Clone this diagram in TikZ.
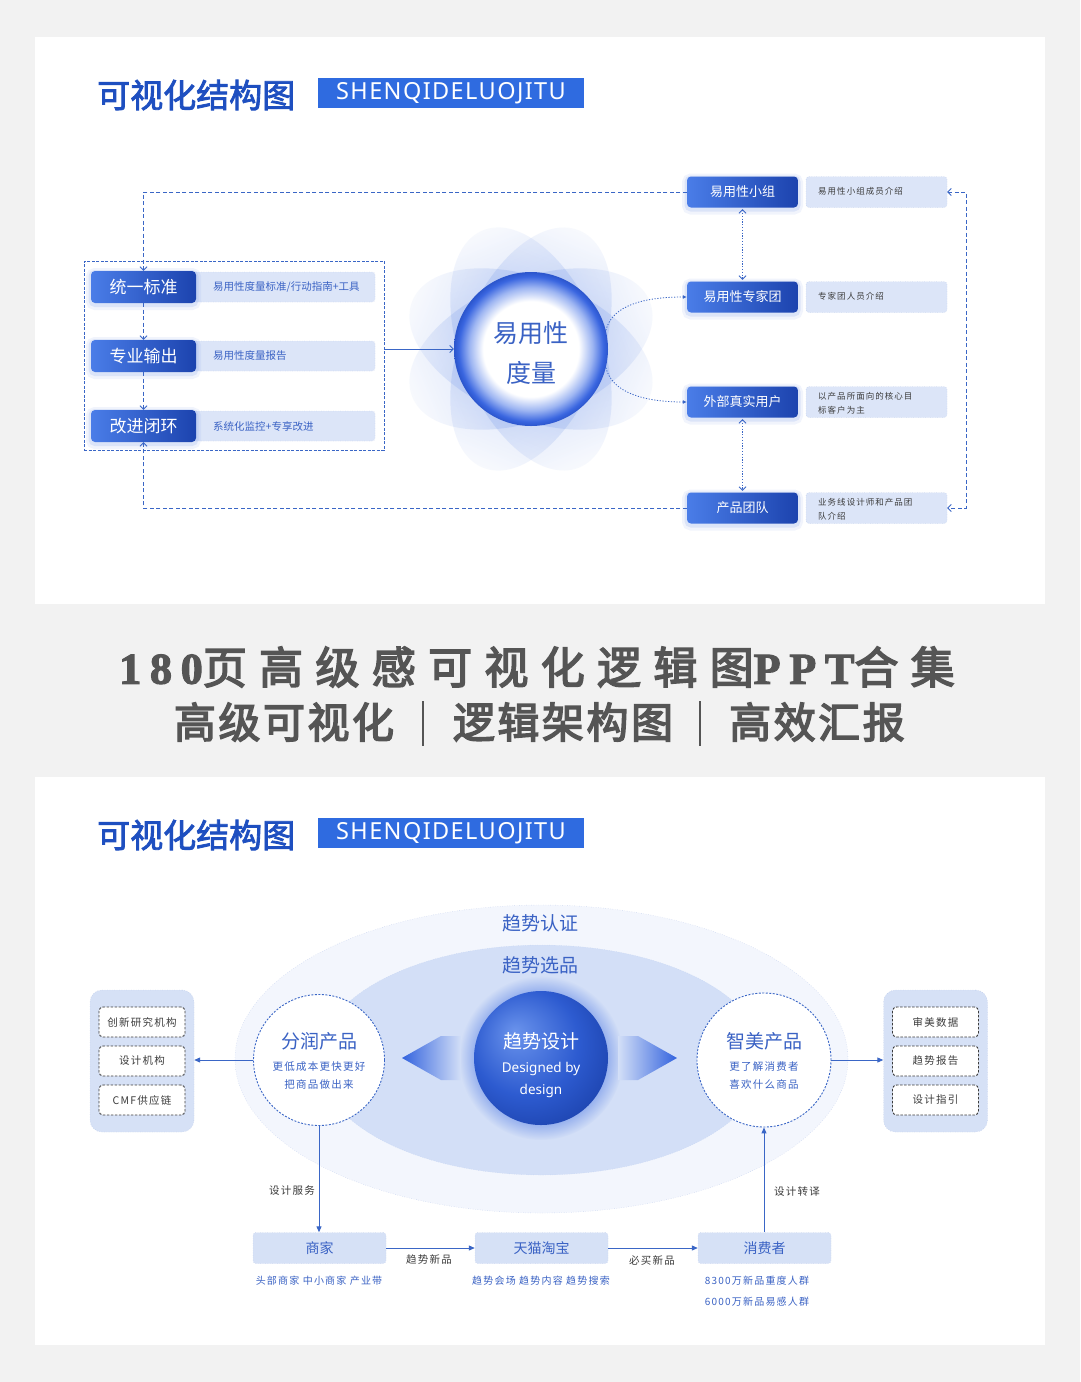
\documentclass[tikz,border=0pt]{standalone}
\usepackage{fontspec}
\setmainfont{Noto Sans CJK SC}[AutoFakeBold=2.5]
\newfontfamily\latin{Noto Sans}
\newfontfamily\latinsp{Noto Sans}[LetterSpace=6]
\newfontfamily\cjkls{Noto Sans CJK SC}[LetterSpace=12]
\newfontfamily\cjkbigA{Noto Sans CJK SC}[LetterSpace=28,AutoFakeBold=3.5]
\newfontfamily\cjkbigB{Noto Sans CJK SC}[LetterSpace=6,AutoFakeBold=3.5]
\newfontfamily\serifbig{Liberation Serif}[LetterSpace=20,BoldFeatures={FakeBold=2.5}]
\usetikzlibrary{arrows.meta,fadings,shapes.geometric,calc}
\newcommand\fsz[2]{\fontsize{#1}{#2}\selectfont}
\definecolor{bgc}{HTML}{F2F2F2}
\definecolor{tblue}{HTML}{1E4FC0}
\definecolor{boxblue}{HTML}{2F6BE0}
\definecolor{btnL}{HTML}{4A7DE8}
\definecolor{btnR}{HTML}{1C43AE}
\definecolor{glowc}{HTML}{7C9CEA}
\definecolor{infof}{HTML}{DCE5F8}
\definecolor{infod}{HTML}{A8BBE4}
\definecolor{lineb}{HTML}{3A66C6}
\definecolor{txtb}{HTML}{3A62C4}
\definecolor{darkt}{HTML}{3C3C3C}
\definecolor{greyt}{HTML}{555555}
\definecolor{petal}{HTML}{7A9CEB}
\definecolor{ellout}{HTML}{F3F6FD}
\definecolor{elloutb}{HTML}{B5C6EA}
\definecolor{ellin}{HTML}{D3DFF7}
\definecolor{ellinb}{HTML}{BFD0F2}
\definecolor{lbox}{HTML}{D6E1F6}
\definecolor{ringm}{HTML}{9DB5F2}
\definecolor{ringo}{HTML}{3A66E0}
\definecolor{ringd}{HTML}{2B55CC}
\definecolor{ballL}{HTML}{6A93EC}
\definecolor{ballM}{HTML}{2D5BD0}
\definecolor{ballD}{HTML}{1A3FA8}
\definecolor{arrB}{HTML}{3363DE}
\pgfdeclareradialshading{ringsh}{\pgfpoint{0bp}{0bp}}{color(0bp)=(white); color(15.5bp)=(white); color(20bp)=(ringm); color(23.5bp)=(ringo); color(25bp)=(ringd); color(50bp)=(ringd)}
\pgfdeclareradialshading{ballsh}{\pgfpoint{-10bp}{10bp}}{color(0bp)=(ballL); color(20bp)=(ballM); color(35bp)=(ballD); color(50bp)=(ballD)}
\tikzfading[name=fadeends, left color=transparent!85, right color=transparent!85, middle color=transparent!0]
\begin{document}
\begin{tikzpicture}[x=1pt,y=-1pt,
  >={Straight Barb[length=3.5pt,width=7pt]},
  glow/.style={preaction={draw=glowc, line width=10pt, opacity=.10, transform canvas={yshift=-2pt}},
               preaction={draw=glowc, line width=5pt, opacity=.18, transform canvas={yshift=-1.5pt}}},
  btnA/.style={rounded corners=4pt, left color=btnL, right color=btnR, text=white, minimum width=105pt, minimum height=32pt, inner sep=0pt, font=\fsz{17}{20}, glow},
  btnB/.style={btnA, minimum width=111pt, minimum height=31pt, font=\fsz{13}{16}},
  infoL/.style={fill=infof, draw=infod, dotted, rounded corners=3pt, minimum height=30pt, minimum width=184pt, inner sep=0pt},
  infoR/.style={infoL, minimum width=141pt, minimum height=31pt},
  ltxt/.style={anchor=west, text=txtb, font=\fsz{10.5}{13}, inner sep=0pt},
  rtxt/.style={anchor=west, text=darkt, font=\cjkls\fsz{8.5}{14}, align=left, inner sep=0pt},
  dsh/.style={draw=lineb, line width=0.9pt, dash pattern=on 4pt off 2.5pt},
  dotl/.style={draw=lineb, line width=0.8pt, dash pattern=on 1.2pt off 1.6pt},
  sarr/.style={draw=lineb, line width=1pt, -{Triangle[length=6pt,width=5pt]}},
  ttxt/.style={anchor=west, text=tblue, font=\bfseries\fsz{33}{36}, inner sep=0pt},
  tbox/.style={fill=boxblue, minimum width=266pt, minimum height=30pt, text=white, font=\latinsp\fsz{23.5}{28}, inner sep=0pt},
  wcirc/.style={circle, fill=white, draw=lineb, line width=0.9pt, dash pattern=on 2pt off 1.5pt, inner sep=0pt},
  sidebox/.style={fill=lbox, draw=infod, dotted, rounded corners=12pt, minimum width=104pt, minimum height=142pt, inner sep=0pt},
  dbox/.style={fill=white, draw=darkt, line width=0.9pt, dash pattern=on 2.5pt off 1.5pt, rounded corners=4pt, minimum width=86pt, minimum height=30pt, inner sep=0pt, font=\cjkls\fsz{10.5}{13}, text=darkt},
  bbox/.style={fill=lbox, draw=infod, dotted, rounded corners=3pt, minimum width=133pt, minimum height=31pt, inner sep=0pt, font=\fsz{14}{16}, text=txtb},
  lab/.style={text=darkt, font=\cjkls\fsz{10.5}{13}, inner sep=0pt},
  sub/.style={text=txtb, font=\cjkls\fsz{10}{13}, inner sep=0pt}
]
\useasboundingbox (0,0) rectangle (1080,1382);
\fill[bgc] (0,0) rectangle (1080,1382);
\fill[white] (35,37) rectangle (1045,604);
\fill[white] (35,777) rectangle (1045,1345);

% ---------- top panel ----------
\node[ttxt] (t1) at (97,95) {可视化结构图};
\node[tbox] (tb1) at (451,93) {SHENQIDELUOJITU};

% flower
\foreach \a in {22,-22,68,-68}
  \fill[petal, opacity=.36, path fading=fadeends, transform canvas={rotate around={\a:(531,349)}}]
    (531,349) ellipse [x radius=128pt, y radius=70pt];
\node[circle, minimum size=154pt, shading=ringsh, inner sep=0pt] (c) at (531,349) {};
\node[text=txtb, font=\fsz{25}{40}, align=center, inner sep=0pt] (ct) at (531,353) {易用性\\度量};

% left group
\node[draw=lineb, line width=0.9pt, dash pattern=on 3pt off 1.5pt, minimum width=300pt, minimum height=189pt, inner sep=0pt] (grp) at (234,355.5) {};
\node[infoL] (l1) at (283,287) {};
\node[infoL] (l2) at (283,356) {};
\node[infoL] (l3) at (283,426) {};
\node[ltxt] (lt1) at (213,287) {易用性度量标准/行动指南+工具};
\node[ltxt] (lt2) at (213,356) {易用性度量报告};
\node[ltxt] (lt3) at (213,426) {系统化监控+专享改进};
\node[btnA] (b1) at (143.5,287) {统一标准};
\node[btnA] (b2) at (143.5,356) {专业输出};
\node[btnA] (b3) at (143.5,426) {改进闭环};

% right column
\node[infoR] (ri1) at (876.5,192) {};
\node[infoR] (ri2) at (876.5,297) {};
\node[infoR] (ri3) at (876.5,402) {};
\node[infoR] (ri4) at (876.5,508) {};
\node[rtxt] (rt1) at (818,191) {易用性小组成员介绍};
\node[rtxt] (rt2) at (818,296) {专家团人员介绍};
\node[rtxt] (rt3) at (818,403) {以产品所面向的核心目\\标客户为主};
\node[rtxt] (rt4) at (818,509) {业务线设计师和产品团\\队介绍};
\node[btnB] (r1) at (742.5,192) {易用性小组};
\node[btnB] (r2) at (742.5,297) {易用性专家团};
\node[btnB] (r3) at (742.5,402) {外部真实用户};
\node[btnB] (r4) at (742.5,508) {产品团队};

% connectors top
\coordinate (tl) at (b1.north |- r1.west);
\coordinate (bl) at (b3.south |- r4.west);
\coordinate (tr) at (966,192);
\coordinate (br) at (966,508);
\draw[dsh,->] (r1.west) -- (tl) -- (b1.north);
\draw[dsh,->] (b1.south) -- (b2.north);
\draw[dsh,->] (b2.south) -- (b3.north);
\draw[dsh,->] (r4.west) -- (bl) -- (b3.south);
\draw[dsh,<->] (ri1.east) -- (tr) -- (br) -- (ri4.east);
\draw[dotl,<->, shorten <=1.5pt, shorten >=1.5pt] (r1.south) -- (r2.north);
\draw[dotl,<->, shorten <=1.5pt, shorten >=1.5pt] (r3.south) -- (r4.north);
\draw[draw=lineb, line width=0.9pt, ->] (grp.east |- c) -- (c.west);
\draw[dotl,-{Latex[length=4pt,width=4pt]}] (c.14) .. controls (612,305) and (645,297) .. (r2.west);
\draw[dotl,-{Latex[length=4pt,width=4pt]}] (c.-14) .. controls (612,393) and (645,402) .. (r3.west);

% ---------- middle text ----------
\node[text=greyt, inner sep=0pt] (h1) at (537,667) {\fsz{44}{48}{\serifbig\bfseries 180}{\cjkbigA\bfseries 页高级感可视化逻辑图}{\serifbig\bfseries PPT}{\cjkbigA\bfseries 合集}};
\node[text=greyt, inner sep=0pt, font=\cjkbigB\bfseries\fsz{42}{46}] (h21) at (284,722) {高级可视化};
\node[text=greyt, inner sep=0pt, font=\cjkbigB\bfseries\fsz{42}{46}] (h22) at (563,722) {逻辑架构图};
\node[text=greyt, inner sep=0pt, font=\cjkbigB\bfseries\fsz{42}{46}] (h23) at (817,722) {高效汇报};
\draw[greyt, line width=2pt] (423,701) -- (423,746);
\draw[greyt, line width=2pt] (700,701) -- (700,746);

% ---------- bottom panel ----------
\node[ttxt] (t2) at (97,835) {可视化结构图};
\node[tbox] (tb2) at (451,833) {SHENQIDELUOJITU};

\node[ellipse, fill=ellout, draw=elloutb, dotted, minimum width=613pt, minimum height=308pt, inner sep=0pt] (eo) at (541.5,1059) {};
\node[ellipse, fill=ellin, draw=ellinb, dotted, minimum width=446pt, minimum height=230pt, inner sep=0pt] (ei) at (541.5,1060) {};
\node[text=txtb, font=\fsz{19}{22}, inner sep=0pt] (e1) at (540,923) {趋势认证};
\node[text=txtb, font=\fsz{19}{22}, inner sep=0pt] (e2) at (540,965) {趋势选品};

\fill[glowc, opacity=.7, path fading=circle with fuzzy edge 20 percent] (541,1058) circle (82pt);
\node[circle, minimum size=134pt, shading=ballsh, inner sep=0pt] (cb) at (541,1058) {};
\node[text=white, font=\fsz{19}{22}, inner sep=0pt] (cb1) at (541,1041) {趋势设计};
\node[text=white, font=\latin\fsz{13.5}{16}, inner sep=0pt] (cb2) at (541,1069) {Designed by};
\node[text=white, font=\latin\fsz{13.5}{16}, inner sep=0pt] (cb3) at (541,1091) {design};

\shade[left color=arrB, right color=ellin] (402,1058) -- (441,1036) -- (461,1036) -- (461,1080) -- (441,1080) -- cycle;
\shade[left color=ellin, right color=arrB] (677,1058) -- (638,1036) -- (618,1036) -- (618,1080) -- (638,1080) -- cycle;

\node[wcirc, minimum size=131pt] (cl) at (319,1060) {};
\node[wcirc, minimum size=134pt] (cr) at (764,1060) {};
\node[text=txtb, font=\fsz{19}{22}, inner sep=0pt] (cl1) at (319,1041) {分润产品};
\node[text=txtb, font=\cjkls\fsz{10.5}{13}, inner sep=0pt] (cl2) at (319,1067) {更低成本更快更好};
\node[text=txtb, font=\cjkls\fsz{10.5}{13}, inner sep=0pt] (cl3) at (319,1084) {把商品做出来};
\node[text=txtb, font=\fsz{19}{22}, inner sep=0pt] (cr1) at (764,1041) {智美产品};
\node[text=txtb, font=\cjkls\fsz{10.5}{13}, inner sep=0pt] (cr2) at (764,1067) {更了解消费者};
\node[text=txtb, font=\cjkls\fsz{10.5}{13}, inner sep=0pt] (cr3) at (764,1084) {喜欢什么商品};

\node[sidebox] (sl) at (142,1061) {};
\node[sidebox] (sr) at (935.5,1061) {};
\node[dbox] (s1) at (142,1022) {创新研究机构};
\node[dbox] (s2) at (142,1061) {设计机构};
\node[dbox] (s3) at (142,1100) {CMF供应链};
\node[dbox] (s4) at (935.5,1022) {审美数据};
\node[dbox] (s5) at (935.5,1061) {趋势报告};
\node[dbox] (s6) at (935.5,1100) {设计指引};

\draw[sarr] (cl.west) -- (sl.east |- cl.west);
\draw[sarr] (cr.east) -- (sr.west |- cr.east);

\node[bbox] (m1) at (319.5,1248) {商家};
\node[bbox] (m2) at (541.5,1248) {天猫淘宝};
\node[bbox] (m3) at (764.5,1248) {消费者};
\draw[sarr] (cl.south) -- (cl.south |- m1.north);
\draw[sarr] (cr.south |- m3.north) -- (cr.south);
\draw[sarr] (m1.east) -- (m2.west);
\draw[sarr] (m2.east) -- (m3.west);
\node[lab] (la1) at (292,1191) {设计服务};
\node[lab] (la2) at (797,1192) {设计转译};
\node[lab] (la3) at (429,1259) {趋势新品};
\node[lab] (la4) at (652,1260) {必买新品};
\node[sub] (su1) at (319,1281) {头部商家 中小商家 产业带};
\node[sub] (su2) at (541,1281) {趋势会场 趋势内容 趋势搜索};
\node[sub] (su3) at (757,1281) {8300万新品重度人群};
\node[sub] (su4) at (757,1302) {6000万新品易感人群};
\end{tikzpicture}
\end{document}
